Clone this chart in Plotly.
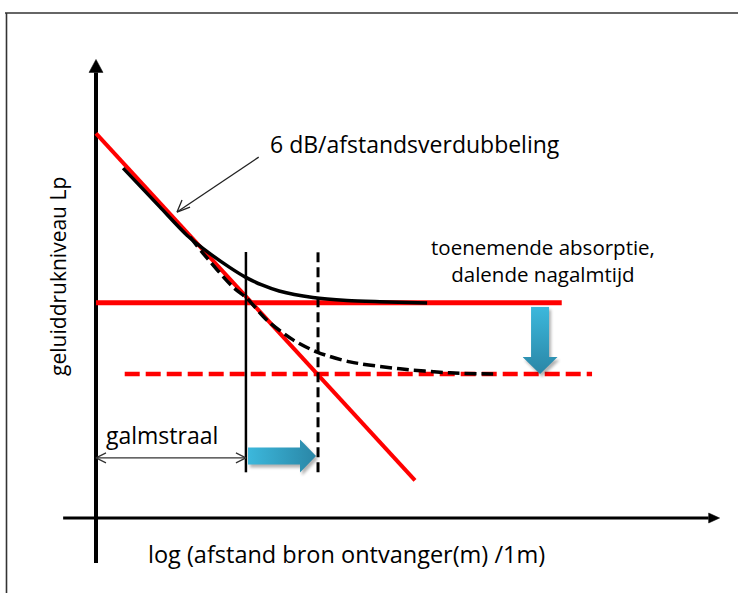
import base64
import plotly.graph_objects as go

# ---------------------------------------------------------------
# Schematic: sound pressure level vs. log(distance) in a room.
# x = log distance (arbitrary units), y = level Lp (dB, arbitrary)
# ---------------------------------------------------------------

# direct field, 6 dB per distance doubling
direct_x = [0.0, 10.0]
direct_y = [66.5, 6.5]

# diffuse (reverberant) levels: before / after adding absorption
reverb_high = 37.2
reverb_low = 24.9
reverb_high_x = [0.0, 14.6]
reverb_low_x = [0.9, 15.55]

# total level, low absorption (solid black)
total_high_x = [0.85, 2.0, 2.85, 3.55, 4.2, 4.67, 5.2, 5.74, 6.8, 7.87, 8.9, 10.38]
total_high_y = [60.5, 53.8, 48.9, 45.8, 43.3, 41.7, 40.3, 39.25, 38.13, 37.61, 37.39, 37.18]

# total level, high absorption (dashed black)
total_low_x = [2.95, 3.35, 4.3, 4.73, 5.36, 6.18, 6.93, 7.96, 9.53, 11.1, 12.45]
total_low_y = [48.6, 45.8, 39.9, 38.0, 34.2, 30.8, 28.7, 27.0, 25.8, 25.1, 24.9]

# reverberation radius (galmstraal) before / after
radius_high = 4.70
radius_low = 6.96
radius_span = [7.9, 46.0]

# axis extents
x_axis_span = [-1.03, 19.55]
y_axis_span = [-7.8, 79.3]

# ---------------------------------------------------------------
# scale: pixels per data unit and origin placement
PX_X = 31.9
PX_Y = 5.783
W, H = 738, 593
ORIG_X, ORIG_Y = 96, 518
x_range = [-ORIG_X / PX_X, (W - ORIG_X) / PX_X]
y_range = [(ORIG_Y - H) / PX_Y, ORIG_Y / PX_Y]


def dx(px):
    return px / PX_X


def dy(px):
    return px / PX_Y


FONT = "Open Sans"
RED = "#ff0000"

fig = go.Figure()


def line(xs, ys, color, width, dash="solid", shape="linear", smoothing=1.0):
    ln = dict(color=color, width=width, dash=dash, shape=shape)
    if shape == "spline":
        ln["smoothing"] = smoothing
    fig.add_trace(go.Scatter(
        x=xs, y=ys, mode="lines", hoverinfo="skip", showlegend=False, line=ln))


def filled(xs, ys, color):
    fig.add_trace(go.Scatter(
        x=xs, y=ys, mode="lines", fill="toself", fillcolor=color,
        hoverinfo="skip", showlegend=False, line=dict(color=color, width=0.5)))


# axes with arrow heads
y_head = dy(13)
line([0, 0], [y_axis_span[0], y_axis_span[1] - y_head], "black", 4)
filled([-dx(7), dx(7), 0, -dx(7)],
       [y_axis_span[1] - y_head, y_axis_span[1] - y_head, y_axis_span[1], y_axis_span[1] - y_head], "black")
x_head = dx(11)
line([x_axis_span[0], x_axis_span[1] - x_head], [0, 0], "black", 3)
filled([x_axis_span[1] - x_head, x_axis_span[1] - x_head, x_axis_span[1], x_axis_span[1] - x_head],
       [dy(5), -dy(5), 0, dy(5)], "black")

# red levels
line(direct_x, direct_y, RED, 4)
line(reverb_high_x, [reverb_high, reverb_high], RED, 5)
line(reverb_low_x, [reverb_low, reverb_low], RED, 4.5, dash="15px,6px")

# total level curves
line(total_high_x, total_high_y, "black", 3.5, shape="spline", smoothing=0.8)
line(total_low_x, total_low_y, "black", 3.5, dash="12px,5px", shape="spline", smoothing=0.8)

# reverberation radius markers
line([radius_high, radius_high], radius_span, "black", 2.5)
line([radius_low, radius_low], radius_span, "black", 3, dash="10px,5px")

# galmstraal dimension arrow
galm_y = 10.4
line([0, radius_high], [galm_y, galm_y], "#333333", 1.2)
line([dx(10), 0, dx(10)], [galm_y + dy(5), galm_y, galm_y - dy(5)], "#333333", 1.2)
line([radius_high - dx(10), radius_high, radius_high - dx(10)],
     [galm_y + dy(5), galm_y, galm_y - dy(5)], "#333333", 1.2)

# pointer for the 6 dB label
tail = (5.1, 62.4)
tip = (2.54, 52.9)
line([tail[0], tip[0]], [tail[1], tip[1]], "#222222", 1.3)
line([tip[0] + dx(13), tip[0], tip[0] + dx(5)],
     [tip[1] + dy(5), tip[1], tip[1] + dy(12)], "#222222", 1.3)


# gradient arrows (SVG images)
def arrow_svg(length, shaft, head, head_len, c1, c2, direction):
    pad = 6
    cy = head / 2
    pts = [(0, cy - shaft / 2), (length - head_len, cy - shaft / 2), (length - head_len, 0),
           (length, cy), (length - head_len, head), (length - head_len, cy + shaft / 2),
           (0, cy + shaft / 2)]
    if direction == "down":
        pts = [(y, x) for x, y in pts]
        w, h = head + pad, length + pad
        grad = "x1='0' y1='0' x2='0' y2='1'"
    else:
        w, h = length + pad, head + pad
        grad = "x1='0' y1='0' x2='1' y2='0'"
    d = "M" + " L".join(f"{x:.1f},{y:.1f}" for x, y in pts) + " Z"
    svg = (f"<svg xmlns='http://www.w3.org/2000/svg' width='{w}' height='{h}' "
           f"viewBox='0 0 {w} {h}' preserveAspectRatio='none'>"
           f"<defs><linearGradient id='g' {grad}>"
           f"<stop offset='0' stop-color='{c1}'/><stop offset='1' stop-color='{c2}'/>"
           f"</linearGradient><filter id='s' x='-30%' y='-30%' width='160%' height='160%'>"
           f"<feGaussianBlur stdDeviation='1.6'/></filter></defs>"
           f"<path d='{d}' fill='#000' opacity='0.3' transform='translate(2,3)' filter='url(#s)'/>"
           f"<path d='{d}' fill='url(#g)'/></svg>")
    src = "data:image/svg+xml;base64," + base64.b64encode(svg.encode()).decode()
    return src, w, h


images = []
# right arrow: radius grows
r_len = (radius_low - radius_high) * PX_X - 4
src, w, h = arrow_svg(r_len, 17, 33, 16, "#3cb8dc", "#2a86a6", "right")
arrow_right_y = 10.72
images.append(dict(source=src, xref="x", yref="y", x=radius_high + dx(2), y=arrow_right_y + dy(16.5),
                   sizex=dx(w), sizey=dy(h), sizing="stretch", xanchor="left", yanchor="top",
                   layer="above"))
# down arrow: diffuse level drops
d_len = (reverb_high - reverb_low) * PX_Y - 4
src, w, h = arrow_svg(d_len, 18, 35, 17, "#3cb8dc", "#2a86a6", "down")
arrow_down_x = 13.92
images.append(dict(source=src, xref="x", yref="y", x=arrow_down_x - dx(17.5), y=reverb_high - dy(4),
                   sizex=dx(w), sizey=dy(h), sizing="stretch", xanchor="left", yanchor="top",
                   layer="above"))


def font(size):
    return dict(family=FONT, size=size, color="black")


annotations = [
    dict(x=5.4, y=64.7, text="6 dB/afstandsverdubbeling", xanchor="left", yanchor="middle",
         font=font(23)),
    dict(x=14.01, y=44.6, text="toenemende absorptie,<br>dalende nagalmtijd", xanchor="center",
         yanchor="middle", align="center", font=font(20.5)),
    dict(x=0.25, y=14.35, text="galmstraal", xanchor="left", yanchor="middle", font=font(23)),
    dict(x=7.84, y=-6.2, text="log (afstand bron ontvanger(m) /1m)", xanchor="center",
         yanchor="middle", font=font(23.5)),
    dict(x=-1.19, y=41.7, text="geluiddrukniveau Lp", textangle=-90, xanchor="center",
         yanchor="middle", font=font(21)),
]
for a in annotations:
    a.update(xref="x", yref="y", showarrow=False)

# frame around the drawing
shapes = [
    dict(type="line", xref="paper", yref="paper", x0=5 / W, x1=1, y0=1 - 13 / H, y1=1 - 13 / H,
         line=dict(color="#333333", width=1.6)),
    dict(type="line", xref="paper", yref="paper", x0=6.5 / W, x1=6.5 / W, y0=0, y1=1 - 13 / H,
         line=dict(color="#333333", width=1.6)),
]

fig.update_layout(
    width=W, height=H, margin=dict(l=0, r=0, t=0, b=0),
    paper_bgcolor="white", plot_bgcolor="white",
    xaxis=dict(range=x_range, visible=False, fixedrange=True),
    yaxis=dict(range=y_range, visible=False, fixedrange=True),
    annotations=annotations, images=images, shapes=shapes, showlegend=False,
)

fig.write_html("out.html")
